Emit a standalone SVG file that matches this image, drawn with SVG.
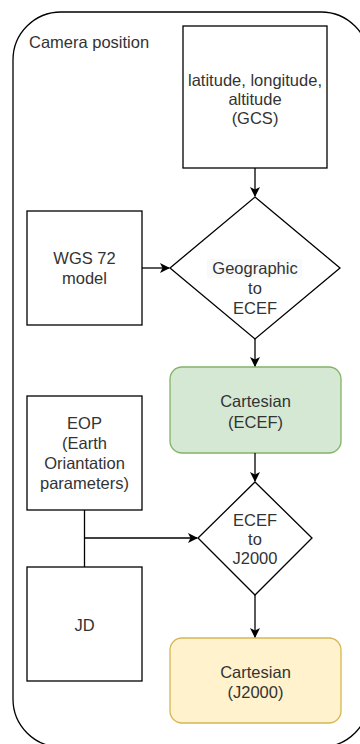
<svg xmlns="http://www.w3.org/2000/svg" width="360" height="744" viewBox="0 0 360 744">
<defs>
<style>
.box{fill:#fff;stroke:#000;stroke-width:1.3}
.t{font-family:"Liberation Sans",Arial,sans-serif;font-size:16.5px;fill:#333;text-anchor:middle;dominant-baseline:central}
.edge{fill:none;stroke:#000;stroke-width:1.3}
</style>
<marker id="arr" viewBox="0 0 10 10" refX="9" refY="5" markerWidth="10" markerHeight="10" markerUnits="userSpaceOnUse" orient="auto">
<path d="M0,0 L10,5 L0,10 L2.5,5 Z" fill="#000"/>
</marker>
</defs>
<rect width="360" height="744" fill="#fff"/>
<g id="container">
<rect x="13" y="12" width="356" height="735" rx="48" fill="#fff" stroke="#000" stroke-width="1.3"/>
<text class="t" x="29" y="42" style="text-anchor:start">Camera position</text>
</g>
<g id="gcs">
<rect class="box" x="183" y="26" width="144" height="142"/>
<text class="t" x="255" y="80">latitude, longitude,</text>
<text class="t" x="255" y="99">altitude</text>
<text class="t" x="255" y="118">(GCS)</text>
</g>
<g id="wgs72">
<rect class="box" x="27" y="211" width="115" height="114"/>
<text class="t" x="84.5" y="258">WGS 72</text>
<text class="t" x="84.5" y="278">model</text>
</g>
<g id="geo2ecef">
<polygon class="box" points="255,197 340,268 255,339 170,268"/>
<rect x="207" y="259" width="95" height="19" fill="#f8f9fa"/>
<text class="t" x="255" y="268">Geographic</text>
<text class="t" x="255" y="288">to</text>
<text class="t" x="255" y="308">ECEF</text>
</g>
<g id="cartesian-ecef">
<rect x="170" y="367" width="171" height="86" rx="12" fill="#d5e8d4" stroke="#82b366" stroke-width="1.3"/>
<text class="t" x="255.5" y="401">Cartesian</text>
<text class="t" x="255.5" y="422">(ECEF)</text>
</g>
<g id="eop">
<rect class="box" x="27" y="396" width="115" height="114"/>
<text class="t" x="84.5" y="423">EOP</text>
<text class="t" x="84.5" y="443">(Earth</text>
<text class="t" x="84.5" y="463">Oriantation</text>
<text class="t" x="84.5" y="483">parameters)</text>
</g>
<g id="jd">
<rect class="box" x="27" y="567" width="115" height="114"/>
<text class="t" x="84.5" y="625">JD</text>
</g>
<g id="ecef2j2000">
<polygon class="box" points="255,482 312,538 255,595 198,538"/>
<text class="t" x="255" y="520">ECEF</text>
<text class="t" x="255" y="539">to</text>
<text class="t" x="255" y="558">J2000</text>
</g>
<g id="cartesian-j2000">
<rect x="170" y="638" width="171" height="85" rx="12" fill="#fff2cc" stroke="#d6b656" stroke-width="1.3"/>
<text class="t" x="255.5" y="672">Cartesian</text>
<text class="t" x="255.5" y="692">(J2000)</text>
</g>
<g id="connectors">
<path class="edge" d="M255,168 V196" marker-end="url(#arr)"/>
<path class="edge" d="M142,268 H169" marker-end="url(#arr)"/>
<path class="edge" d="M255,339 V366" marker-end="url(#arr)"/>
<path class="edge" d="M255,453 V481" marker-end="url(#arr)"/>
<path class="edge" d="M84.5,510 V567"/>
<path class="edge" d="M84.5,538 H197" marker-end="url(#arr)"/>
<path class="edge" d="M255,595 V637" marker-end="url(#arr)"/>
</g>
</svg>
